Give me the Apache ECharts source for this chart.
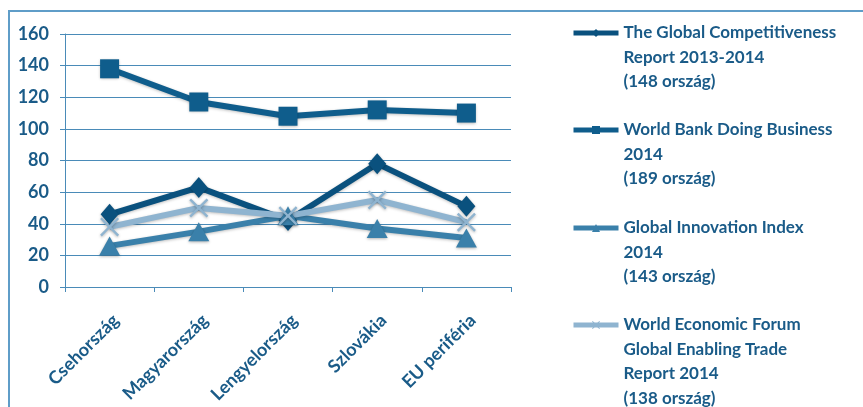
<!DOCTYPE html>
<html>
<head>
<meta charset="utf-8">
<script src="https://cdn.jsdelivr.net/npm/echarts@6/dist/echarts.min.js"></script>
<style>
html,body{margin:0;padding:0;background:#fff;}
#main{width:863px;height:407px;}
</style>
</head>
<body>
<div id="main"></div>
<script>
const categories = ['Csehország', 'Magyarország', 'Lengyelország', 'Szlovákia', 'EU periféria'];
const seriesNames = [
  'The Global Competitiveness\nReport 2013-2014\n(148 ország)',
  'World Bank Doing Business\n2014\n(189 ország)',
  'Global Innovation Index\n2014\n(143 ország)',
  'World Economic Forum\nGlobal Enabling Trade\nReport 2014\n(138 ország)'
];
const gcrValues = [46, 63, 42, 78, 51];
const doingBusinessValues = [138, 117, 108, 112, 110];
const innovationValues = [26, 35, 45, 37, 31];
const tradeValues = [38, 50, 45, 55, 41];
const yTicks = [0, 20, 40, 60, 80, 100, 120, 140, 160];

const textColor = '#1a5b88';
const gridColor = '#4a8bb8';
const fontFamily = 'Lato, "Open Sans", sans-serif';
const colors = ['#0a517e', '#0f5d8c', '#3a80aa', '#8fb4d0'];
const xPath = 'path://M0,1.8 L1.8,0 L10,8.2 L18.2,0 L20,1.8 L11.8,10 L20,18.2 L18.2,20 L10,11.8 L1.8,20 L0,18.2 L8.2,10 Z';
const symbols = ['diamond', 'rect', 'triangle', xPath];
const symbolSizes = [[18, 21], 19, [21, 19], 19];
const dataSets = [gcrValues, doingBusinessValues, innovationValues, tradeValues];
const legendCenters = [33, 130, 228, 325];
const lineH = 24.5;

const chart = echarts.init(document.getElementById('main'));

const series = dataSets.map((d, i) => ({
  name: seriesNames[i],
  type: 'line',
  data: d,
  symbol: symbols[i],
  symbolSize: symbolSizes[i],
  lineStyle: { width: 6, color: colors[i], shadowBlur: 3, shadowColor: 'rgba(0,0,0,0.25)', shadowOffsetY: 1 },
  itemStyle: { color: colors[i], shadowBlur: 3, shadowColor: 'rgba(0,0,0,0.3)', shadowOffsetY: 1 },
  emphasis: { disabled: true },
  animation: false
}));

const legends = seriesNames.map((n, i) => {
  const lines = n.split('\n').length;
  const total = (2 * lines - 1) * lineH;
  return {
    show: true,
    orient: 'vertical',
    left: 571,
    top: legendCenters[i] - total / 2,
    padding: 0,
    itemWidth: 45,
    itemHeight: 10,
    itemGap: 0,
    data: [n],
    selectedMode: false,
    lineStyle: { width: 5 },
    formatter: function (name) {
      return '\n'.repeat(lines - 1) + name;
    },
    textStyle: {
      color: textColor,
      fontFamily: fontFamily,
      fontWeight: 'bold',
      fontSize: 17,
      lineHeight: lineH
    }
  };
});

chart.setOption({
  backgroundColor: '#fff',
  animation: false,
  grid: { left: 65, right: 352, top: 34, bottom: 120 },
  legend: legends,
  xAxis: {
    type: 'category',
    data: categories,
    boundaryGap: true,
    axisLine: { show: true, lineStyle: { color: gridColor, width: 1 } },
    axisTick: { show: true, length: 5, alignWithLabel: false, lineStyle: { color: gridColor } },
    axisLabel: {
      rotate: 45,
      margin: 24,
      verticalAlign: 'top',
      color: textColor,
      fontFamily: fontFamily,
      fontWeight: 'bold',
      fontSize: 18,
      interval: 0
    },
    splitLine: { show: false }
  },
  yAxis: {
    type: 'value',
    min: yTicks[0],
    max: yTicks[yTicks.length - 1],
    interval: yTicks[1] - yTicks[0],
    axisLine: { show: true, lineStyle: { color: gridColor, width: 1 } },
    axisTick: { show: true, length: 5, lineStyle: { color: gridColor } },
    axisLabel: {
      margin: 16,
      color: textColor,
      fontFamily: fontFamily,
      fontWeight: 'bold',
      fontSize: 18
    },
    splitLine: { show: true, lineStyle: { color: gridColor, width: 1 } }
  },
  graphic: [{
    type: 'polyline',
    shape: { points: [[9, 407], [9, 11], [863, 11]] },
    style: { stroke: '#5f9dc8', lineWidth: 2, fill: null },
    silent: true
  }],
  series: series
});
</script>
</body>
</html>
